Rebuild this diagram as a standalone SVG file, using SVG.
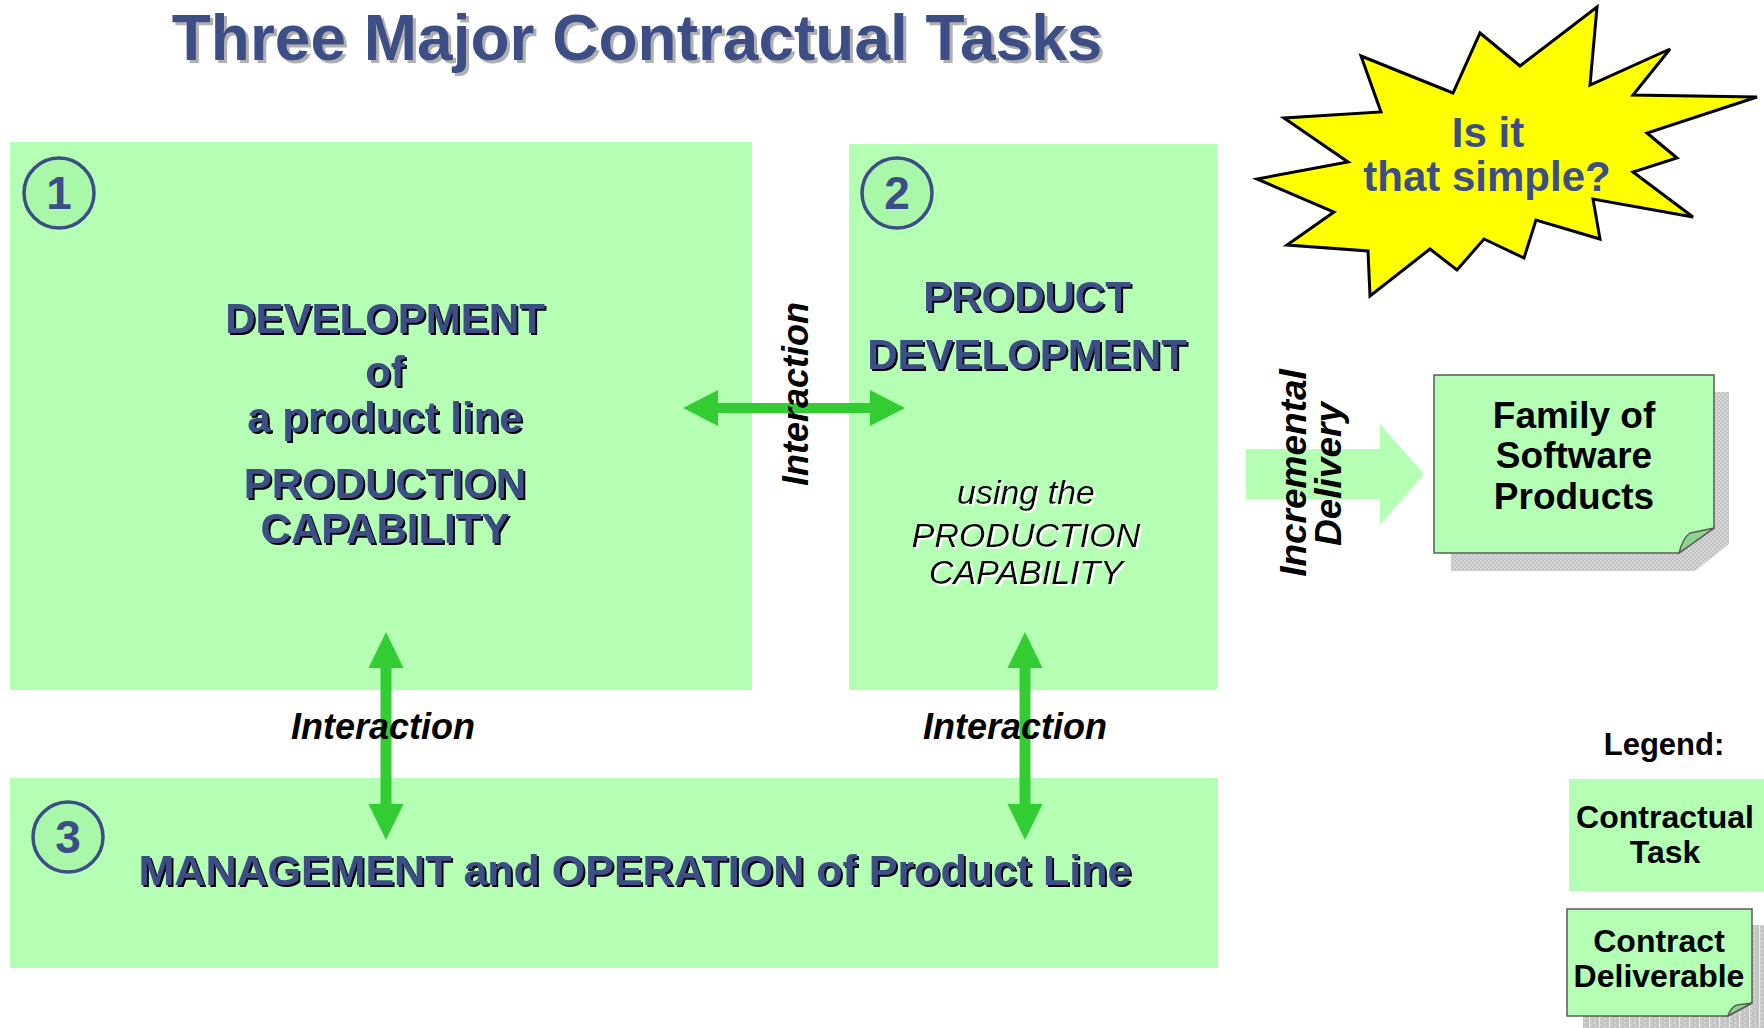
<svg xmlns="http://www.w3.org/2000/svg" width="1764" height="1028" viewBox="0 0 1764 1028">
<defs>
<style>
.box{fill:#b4ffb4}
.num{fill:#a9f7a9;stroke:#3d4e86;stroke-width:3.5}
.bt{font-family:"Liberation Sans",Arial,sans-serif;font-weight:bold;text-anchor:middle}
.blue{fill:#3d4e86}
.blk{fill:#000}
.it{font-style:italic}
.arrow{fill:#33cc33}
.doc{fill:#b4ffb4;stroke:#5a5a5a;stroke-width:1.5}
.curl{fill:#8fd48f;stroke:#5a5a5a;stroke-width:1.5}
</style>
<filter id="sh" x="-5%" y="-20%" width="110%" height="140%">
<feFlood flood-color="#000" result="c"/>
<feOffset in="SourceAlpha" dx="2" dy="2" result="o"/>
<feComposite in="c" in2="o" operator="in" result="s"/>
<feMerge><feMergeNode in="s"/><feMergeNode in="SourceGraphic"/></feMerge>
</filter>
<filter id="shw" x="-5%" y="-20%" width="110%" height="140%">
<feFlood flood-color="#fff" result="c"/>
<feOffset in="SourceAlpha" dx="1.5" dy="1.5" result="o"/>
<feComposite in="c" in2="o" operator="in" result="s"/>
<feMerge><feMergeNode in="s"/><feMergeNode in="SourceGraphic"/></feMerge>
</filter>
<filter id="shg" x="-5%" y="-20%" width="110%" height="140%">
<feFlood flood-color="#b0b0b0" result="c"/>
<feOffset in="SourceAlpha" dx="3" dy="3" result="o"/>
<feComposite in="c" in2="o" operator="in" result="s"/>
<feMerge><feMergeNode in="s"/><feMergeNode in="SourceGraphic"/></feMerge>
</filter>
<pattern id="hatch" width="4" height="4" patternUnits="userSpaceOnUse">
<rect width="4" height="4" fill="#c2c2c2"/>
<rect width="2" height="2" fill="#d6d6d6"/>
<rect x="2" y="2" width="2" height="2" fill="#d6d6d6"/>
</pattern>
<pattern id="vstripe" width="10" height="4" patternUnits="userSpaceOnUse">
<rect width="10" height="4" fill="#c4c4c4"/>
<rect width="2" height="2" fill="#d4d4d4"/>
<rect x="4" y="2" width="2" height="2" fill="#d4d4d4"/>
<rect x="9" width="1" height="4" fill="#ececec"/>
</pattern>
</defs>
<rect width="1764" height="1028" fill="#fff"/>

<g id="title">
<text class="bt blue" x="637" y="60" font-size="64" filter="url(#shg)">Three Major Contractual Tasks</text>
</g>

<g id="task1">
<rect class="box" x="10" y="142" width="742" height="548"/>
<circle class="num" cx="59" cy="193" r="35"/>
<text class="bt blue" x="59" y="209" font-size="46">1</text>
<g class="bt blue" font-size="42" filter="url(#sh)">
<text x="385" y="333">DEVELOPMENT</text>
<text x="385" y="386">of</text>
<text x="385" y="432">a product line</text>
<text x="385" y="498">PRODUCTION</text>
<text x="385" y="543">CAPABILITY</text>
</g>
</g>

<g id="task2">
<rect class="box" x="849" y="144" width="368" height="546"/>
<circle class="num" cx="897" cy="193" r="35"/>
<text class="bt blue" x="897" y="209" font-size="46">2</text>
<g class="bt blue" font-size="42" filter="url(#sh)">
<text x="1027" y="311">PRODUCT</text>
<text x="1027" y="369">DEVELOPMENT</text>
</g>
<g font-family="'Liberation Sans',Arial,sans-serif" font-style="italic" font-size="34" text-anchor="middle" fill="#000" filter="url(#shw)">
<text x="1026" y="504">using the</text>
<text x="1026" y="547">PRODUCTION</text>
<text x="1026" y="584">CAPABILITY</text>
</g>
</g>

<g id="task3">
<rect class="box" x="10" y="778" width="1208" height="190"/>
<circle class="num" cx="68" cy="837" r="35"/>
<text class="bt blue" x="68" y="853" font-size="46">3</text>
<text class="bt blue" x="635" y="885" font-size="43" filter="url(#sh)">MANAGEMENT and OPERATION of Product Line</text>
</g>

<g id="starburst">
<polygon points="1597,7 1590,85 1670,49 1633,95 1757,97 1647,133 1677,158 1633,172 1693,217 1593,199 1600,239 1536,220 1524,258 1484,239 1457,270 1430,249 1370,296 1368,251 1287,245 1334,212 1257,179 1348,162 1284,118 1381,112 1361,56 1453,93 1480,33 1520,66" fill="#ffff00" stroke="#000" stroke-width="3" stroke-linejoin="miter"/>
<g class="bt blue" font-size="42">
<text x="1488" y="147">Is it</text>
<text x="1487" y="191">that simple?</text>
</g>
</g>

<g id="deliverable">
<path d="M1451,392 H1729 V544 L1695,571 H1451 Z" fill="url(#hatch)"/>
<path class="doc" d="M1434,375 H1714 V528 L1679,553 H1434 Z"/>
<path class="curl" d="M1679,553 Q1683,538 1690,533 Q1700,531 1714,528 Z"/>
<g class="bt blk" font-size="37">
<text x="1574" y="428">Family of</text>
<text x="1574" y="468">Software</text>
<text x="1574" y="509">Products</text>
</g>
</g>

<g id="connectors">
<path class="arrow" d="M683,408 L718,390 L718,403 L870,403 L870,390 L905,408 L870,426 L870,413 L718,413 L718,426 Z"/>
<path class="arrow" d="M386,632 L403.5,668 L391.5,668 L391.5,804 L403.5,804 L386,840 L368.5,804 L380.5,804 L380.5,668 L368.5,668 Z"/>
<path class="arrow" d="M1025,632 L1042.5,668 L1030.5,668 L1030.5,804 L1042.5,804 L1025,840 L1007.5,804 L1019.5,804 L1019.5,668 L1007.5,668 Z"/>
<path d="M1246,449 H1380 V424 L1424,474 L1380,525 V499 H1246 Z" fill="#b4ffb4"/>
<g class="bt blk it" font-size="36">
<text transform="translate(808,394) rotate(-90)">Interaction</text>
<text x="383" y="739">Interaction</text>
<text x="1015" y="739">Interaction</text>
</g>
<g class="bt blk it" font-size="37">
<text transform="translate(1306,473) rotate(-90)">Incremental</text>
<text transform="translate(1341,474) rotate(-90)">Delivery</text>
</g>
</g>

<g id="legend">
<text class="bt blk" x="1664" y="755" font-size="31">Legend:</text>
<g id="legend-task">
<rect class="box" x="1569" y="779" width="200" height="112"/>
<g class="bt blk" font-size="32">
<text x="1665" y="828">Contractual</text>
<text x="1665" y="863">Task</text>
</g>
</g>
<g id="legend-deliverable">
<rect x="1583" y="925" width="190" height="110" fill="url(#vstripe)"/>
<path class="doc" d="M1567,909 H1752 V1003 L1728,1016 H1567 Z"/>
<path class="curl" d="M1728,1016 Q1731,1007 1737,1005 Q1744,1004 1752,1003 Z"/>
<g class="bt blk" font-size="32">
<text x="1659" y="952">Contract</text>
<text x="1659" y="987">Deliverable</text>
</g>
</g>
</g>
</svg>
